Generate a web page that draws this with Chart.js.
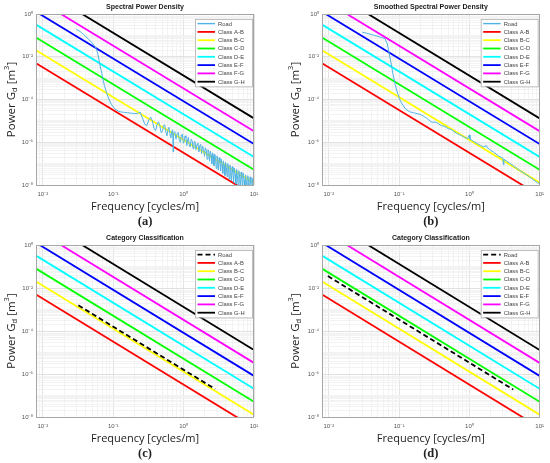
<!DOCTYPE html>
<html>
<head>
<meta charset="utf-8">
<script src="https://cdn.jsdelivr.net/npm/chart.js@4.4.1/dist/chart.umd.min.js"></script>
<style>
html, body { margin: 0; padding: 0; background: #fff; }
#fig { position: relative; width: 550px; height: 463px; overflow: hidden; }
#fig canvas { position: absolute; }
</style>
</head>
<body>
<div id="fig">
    <canvas id="panelA" width="275" height="231" style="left:0;top:0;width:275px;height:231px"></canvas>
    <canvas id="panelB" width="264" height="231" style="left:286px;top:0;width:264px;height:231px"></canvas>
    <canvas id="panelC" width="275" height="232" style="left:0;top:231px;width:275px;height:232px"></canvas>
    <canvas id="panelD" width="264" height="232" style="left:286px;top:231px;width:264px;height:232px"></canvas>
</div>
<script>
// axis ranges and labelled ticks
const freqRange = [0.008, 10];
const psdRange = [1e-8, 1];
const xTickLabels = [0.01, 0.1, 1, 10];
const yTickLabels = [1, 1e-2, 1e-4, 1e-6, 1e-8];

// ISO 8608 class boundaries, value at each end of the frequency axis
const classNames = ['Class A-B', 'Class B-C', 'Class C-D', 'Class D-E', 'Class E-F', 'Class F-G', 'Class G-H'];
const classColors = ['#ff0000', '#ffff00', '#00ff00', '#00ffff', '#0000ff', '#ff00ff', '#000000'];
const classFreq = [0.008, 10];
const classStart = [5.0e-3, 2.0e-2, 8.0e-2, 0.32, 1.28, 5.12, 20.48];
const classEnd = [3.2e-9, 1.28e-8, 5.12e-8, 2.05e-7, 8.19e-7, 3.28e-6, 1.31e-5];

// (a) raw road spectrum
const roadRawFreq = [
    0.030, 0.034, 0.038, 0.044, 0.050, 0.055, 0.058, 0.061, 0.064, 0.067, 0.069, 0.072, 0.075, 0.079, 0.084,
    0.089, 0.094, 0.100, 0.106, 0.113, 0.120, 0.130, 0.145, 0.160, 0.180, 0.200, 0.220, 0.240, 0.260, 0.280,
    0.300, 0.320, 0.340, 0.360, 0.380, 0.400, 0.420, 0.440, 0.460, 0.480, 0.500, 0.520, 0.540, 0.560, 0.580,
    0.600, 0.620, 0.640, 0.660, 0.680, 0.700, 0.710, 0.720, 0.750, 0.780, 0.810, 0.840, 0.870, 0.900, 0.930,
    0.960, 0.990, 1.02, 1.05, 1.08, 1.11, 1.14, 1.17, 1.20, 1.24, 1.28, 1.32, 1.36, 1.40, 1.45,
    1.50, 1.55, 1.60, 1.65, 1.70, 1.75, 1.80, 1.86, 1.92, 1.98, 2.04, 2.10, 2.16, 2.22, 2.28,
    2.34, 2.40, 2.46, 2.52, 2.58, 2.64, 2.70, 2.77, 2.84, 2.91, 2.98, 3.05, 3.12, 3.20, 3.28,
    3.36, 3.44, 3.52, 3.60, 3.68, 3.77, 3.86, 3.95, 4.05, 4.15, 4.25, 4.35, 4.45, 4.56, 4.67,
    4.78, 4.90, 5.02, 5.14, 5.27, 5.40, 5.53, 5.67, 5.81, 5.95, 6.10, 6.25, 6.40, 6.56, 6.72,
    6.89, 7.06, 7.24, 7.42, 7.60, 7.79, 7.98, 8.18, 8.38, 8.59, 8.80, 9.02, 9.24, 9.47, 9.70, 10.0
];
const roadRawPsd = [
    0.19, 0.15, 0.11, 0.07, 0.045, 0.03, 0.022, 0.012, 5e-3, 2.5e-3, 1.6e-3, 8e-4, 4.5e-4, 2.5e-4, 1.4e-4,
    8.5e-5, 6e-5, 4.5e-5, 3.6e-5, 3.1e-5, 2.8e-5, 2.6e-5, 2.5e-5, 2.4e-5, 2.3e-5, 2.2e-5, 2.2e-5, 2.6e-5, 1.4e-5, 7e-6,
    6e-6, 1.1e-5, 1.5e-5, 1.0e-5, 4.5e-6, 3.5e-6, 7e-6, 9e-6, 6e-6, 2.8e-6, 3.2e-6, 6e-6, 6.5e-6, 3e-6, 2e-6,
    4e-6, 5e-6, 2.5e-6, 1.6e-6, 3.4e-6, 3.8e-6, 3.5e-7, 2.8e-6, 3.2e-6, 1.4e-6, 2.6e-6, 2.9e-6, 1.2e-6, 1.0e-6, 2.2e-6,
    2.4e-6, 9e-7, 1.1e-6, 2.0e-6, 1.6e-6, 7e-7, 1.3e-6, 1.7e-6, 8e-7, 6e-7, 1.4e-6, 1.2e-6, 5e-7, 1.0e-6, 1.1e-6,
    4.5e-7, 8e-7, 9e-7, 3.5e-7, 7e-7, 8e-7, 3e-7, 6.5e-7, 5e-7, 2.2e-7, 5.5e-7, 4.2e-7, 1.6e-7, 4.5e-7, 3.6e-7,
    1.3e-7, 3.8e-7, 2.6e-7, 1.0e-7, 3.2e-7, 2.4e-7, 8e-8, 2.8e-7, 1.8e-7, 6e-8, 2.3e-7, 1.5e-7, 5e-8, 1.9e-7, 1.2e-7,
    4.5e-8, 1.6e-7, 9e-8, 3.5e-8, 1.35e-7, 8e-8, 2.8e-8, 1.15e-7, 6.5e-8, 2.4e-8, 1.0e-7, 5.5e-8, 1.9e-8, 8.5e-8, 4.5e-8,
    1.6e-8, 7.2e-8, 3.8e-8, 1.3e-8, 6.2e-8, 3.2e-8, 1.1e-8, 5.4e-8, 2.7e-8, 9e-9, 4.6e-8, 2.3e-8, 8e-9, 4.0e-8, 2.0e-8,
    7e-9, 3.5e-8, 1.7e-8, 6e-9, 3.0e-8, 1.5e-8, 5e-9, 2.7e-8, 1.3e-8, 5e-9, 2.4e-8, 1.2e-8, 4e-9, 2.1e-8, 1.0e-8, 1.6e-8
];

// (b) smoothed road spectrum
const roadSmoothFreq = [
    0.030, 0.035, 0.040, 0.045, 0.050, 0.055, 0.060, 0.063, 0.068, 0.072, 0.077, 0.082, 0.088, 0.095, 0.102,
    0.108, 0.115, 0.125, 0.140, 0.160, 0.180, 0.200, 0.220, 0.250, 0.280, 0.300, 0.330, 0.360, 0.400, 0.450,
    0.500, 0.550, 0.600, 0.660, 0.720, 0.800, 0.880, 0.950, 1.00, 1.02, 1.10, 1.20, 1.30, 1.45, 1.60,
    1.75, 1.80, 1.90, 2.00, 2.20, 2.40, 2.60, 2.80, 3.00, 3.05, 3.10, 3.40, 3.80, 4.20, 4.70,
    5.20, 5.80, 6.50, 7.30, 8.20, 9.00, 10.0
];
const roadSmoothPsd = [
    0.14, 0.125, 0.11, 0.10, 0.09, 0.08, 0.074, 0.07, 0.04, 0.015, 5e-3, 1.5e-3, 5e-4, 2e-4, 1e-4,
    7e-5, 5e-5, 3.5e-5, 2.7e-5, 2.4e-5, 2.2e-5, 2.0e-5, 1.7e-5, 1.3e-5, 9.5e-6, 8.5e-6, 8.8e-6, 7.5e-6, 6e-6, 5.5e-6,
    4.3e-6, 4e-6, 3.2e-6, 2.6e-6, 2.3e-6, 1.9e-6, 1.6e-6, 1.5e-6, 2.2e-6, 1.4e-6, 1.2e-6, 1.0e-6, 8.5e-7, 7e-7, 6e-7,
    7e-7, 5.5e-7, 5e-7, 4.2e-7, 3.5e-7, 2.8e-7, 2.3e-7, 2.0e-7, 1.8e-7, 9e-8, 1.6e-7, 1.3e-7, 1.0e-7, 8e-8, 6e-8,
    4.8e-8, 3.8e-8, 3e-8, 2.3e-8, 1.7e-8, 1.4e-8, 1.1e-8
];

// (c) and (d) fitted road lines
const roadFitCFreq = [0.032, 2.8];
const roadFitCPsd = [1.56e-3, 2.0e-7];
const roadFitDFreq = [0.0097, 4.2];
const roadFitDPsd = [3.6e-2, 1.9e-7];

const supMap = { '-': '\u207b', '0': '\u2070', '1': '\u00b9', '2': '\u00b2', '3': '\u00b3', '4': '\u2074',
    '5': '\u2075', '6': '\u2076', '7': '\u2077', '8': '\u2078', '9': '\u2079' };

function powLabel(v) {
    const e = Math.round(Math.log10(v));
    return '10' + String(e).split('').map(c => supMap[c]).join('');
}

function isIn(v, list) {
    return list.some(a => Math.abs(v / a - 1) < 1e-6);
}

function logTicks(min, max) {
    const ticks = [];
    for (let e = Math.floor(Math.log10(min)); e <= Math.ceil(Math.log10(max)); e++) {
        for (let k = 1; k <= 9; k++) {
            const v = k * Math.pow(10, e);
            if (v >= min * 0.999 && v <= max * 1.001) ticks.push({ value: v });
        }
    }
    return ticks;
}

function pairs(xs, ys) {
    return xs.map((x, i) => ({ x: x, y: ys[i] }));
}

const panelPlugin = {
    id: 'panel',
    afterDraw(chart, args, opts) {
        const ctx = chart.ctx;
        const a = chart.chartArea;
        const cx = (a.left + a.right) / 2;
        ctx.save();

        // axes box
        ctx.strokeStyle = '#a6a6a6';
        ctx.lineWidth = 1;
        ctx.strokeRect(Math.round(a.left) + 0.5, Math.round(a.top) + 0.5,
            Math.round(a.right - a.left) - 1, Math.round(a.bottom - a.top));

        // title
        ctx.fillStyle = '#1a1a1a';
        ctx.font = 'bold 7px "Liberation Sans", Arial, sans-serif';
        ctx.textAlign = 'center';
        ctx.textBaseline = 'middle';
        ctx.fillText(opts.title, cx, a.top - 6.5);

        // x axis label and panel letter
        ctx.font = '11px "Open Sans", sans-serif';
        ctx.fillStyle = '#222';
        ctx.fillText('Frequency [cycles/m]', cx, a.bottom + 22);
        ctx.font = 'bold 12.5px "Liberation Serif", serif';
        ctx.fillText(opts.letter, cx, a.bottom + 37);

        // y axis label with sub/superscript
        const big = '11.5px "Open Sans", sans-serif';
        const small = '7.5px "Open Sans", sans-serif';
        const parts = [
            { t: 'Power G', f: big, dy: 0 },
            { t: 'd', f: small, dy: 3 },
            { t: ' [m', f: big, dy: 0 },
            { t: '3', f: small, dy: -5 },
            { t: ']', f: big, dy: 0 }
        ];
        let total = 0;
        parts.forEach(p => { ctx.font = p.f; p.w = ctx.measureText(p.t).width; total += p.w; });
        ctx.translate(opts.yLabelX, (a.top + a.bottom) / 2);
        ctx.rotate(-Math.PI / 2);
        ctx.textAlign = 'left';
        let px = -total / 2;
        parts.forEach(p => { ctx.font = p.f; ctx.fillText(p.t, px, p.dy); px += p.w; });
        ctx.setTransform(1, 0, 0, 1, 0, 0);

        // legend box inside the axes
        const ds = chart.data.datasets;
        const rowH = 8.3;
        const w = 57, h = ds.length * rowH + 1;
        const lx = a.right - 2 - w, ly = a.top + 5;
        ctx.fillStyle = '#fff';
        ctx.fillRect(lx, ly, w, h);
        ctx.strokeStyle = '#b0b0b0';
        ctx.lineWidth = 0.8;
        ctx.strokeRect(lx + 0.5, ly + 0.5, w, h);
        ctx.font = '5.8px "Liberation Sans", Arial, sans-serif';
        ctx.textBaseline = 'middle';
        ds.forEach((d, i) => {
            const y = ly + 4.6 + i * rowH;
            ctx.beginPath();
            ctx.strokeStyle = d.borderColor;
            ctx.lineWidth = d.borderWidth < 1.5 ? 1.4 : 1.8;
            ctx.setLineDash(d.borderDash || []);
            ctx.moveTo(lx + 2.5, y);
            ctx.lineTo(lx + 20, y);
            ctx.stroke();
            ctx.setLineDash([]);
            ctx.fillStyle = '#444';
            ctx.fillText(d.label, lx + 23, y + 0.3);
        });
        ctx.restore();
    }
};

Chart.register(panelPlugin);

function makePanel(id, title, letter, roadSet, rightPad, yLabelX) {
    const datasets = [roadSet];
    classNames.forEach((name, i) => {
        datasets.push({
            label: name,
            data: pairs(classFreq, [classStart[i], classEnd[i]]),
            borderColor: classColors[i],
            borderWidth: 1.8,
            pointRadius: 0,
            clip: 0,
            order: 0
        });
    });
    return new Chart(document.getElementById(id), {
        type: 'line',
        data: { datasets: datasets },
        options: {
            responsive: false,
            animation: false,
            events: [],
            layout: { padding: { top: 14, right: rightPad, left: 0, bottom: 0 } },
            plugins: {
                legend: { display: false },
                tooltip: { enabled: false },
                panel: { title: title, letter: letter, yLabelX: yLabelX }
            },
            scales: {
                x: {
                    type: 'logarithmic',
                    min: freqRange[0],
                    max: freqRange[1],
                    afterBuildTicks: s => { s.ticks = logTicks(freqRange[0], freqRange[1]); },
                    afterFit: s => { s.height = 46; },
                    border: { display: false },
                    grid: {
                        drawTicks: false,
                        color: c => (c.tick && isIn(c.tick.value, xTickLabels)) ? '#dcdcdc' : '#f0f0f0',
                        lineWidth: 0.8
                    },
                    ticks: {
                        autoSkip: false,
                        maxRotation: 0,
                        padding: 6,
                        color: '#555',
                        font: { size: 6, family: '"Liberation Sans", Arial, sans-serif' },
                        callback: v => isIn(v, xTickLabels) ? powLabel(v) : ''
                    }
                },
                y: {
                    type: 'logarithmic',
                    min: psdRange[0],
                    max: psdRange[1],
                    afterBuildTicks: s => { s.ticks = logTicks(psdRange[0], psdRange[1]); },
                    afterFit: s => { s.width = 36; },
                    border: { display: false },
                    grid: {
                        drawTicks: false,
                        color: c => (c.tick && isIn(c.tick.value, yTickLabels)) ? '#dcdcdc' : '#f0f0f0',
                        lineWidth: 0.8
                    },
                    ticks: {
                        autoSkip: false,
                        padding: 3,
                        color: '#555',
                        font: { size: 6, family: '"Liberation Sans", Arial, sans-serif' },
                        callback: v => isIn(v, yTickLabels) ? powLabel(v) : ''
                    }
                }
            }
        }
    });
}

const roadLight = '#4fb3e3';

makePanel('panelA', 'Spectral Power Density', '(a)', {
    label: 'Road', data: pairs(roadRawFreq, roadRawPsd), borderColor: roadLight,
    borderWidth: 1, pointRadius: 0, clip: 0, order: -1
}, 21, 12);

makePanel('panelB', 'Smoothed Spectral Power Density', '(b)', {
    label: 'Road', data: pairs(roadSmoothFreq, roadSmoothPsd), borderColor: roadLight,
    borderWidth: 1, pointRadius: 0, clip: 0, order: -1
}, 10, 10);

makePanel('panelC', 'Category Classification', '(c)', {
    label: 'Road', data: pairs(roadFitCFreq, roadFitCPsd), borderColor: '#000',
    borderWidth: 1.8, borderDash: [5, 3], pointRadius: 0, clip: 0, order: -1
}, 21, 12);

makePanel('panelD', 'Category Classification', '(d)', {
    label: 'Road', data: pairs(roadFitDFreq, roadFitDPsd), borderColor: '#000',
    borderWidth: 1.8, borderDash: [5, 3], pointRadius: 0, clip: 0, order: -1
}, 10, 10);
</script>
</body>
</html>
